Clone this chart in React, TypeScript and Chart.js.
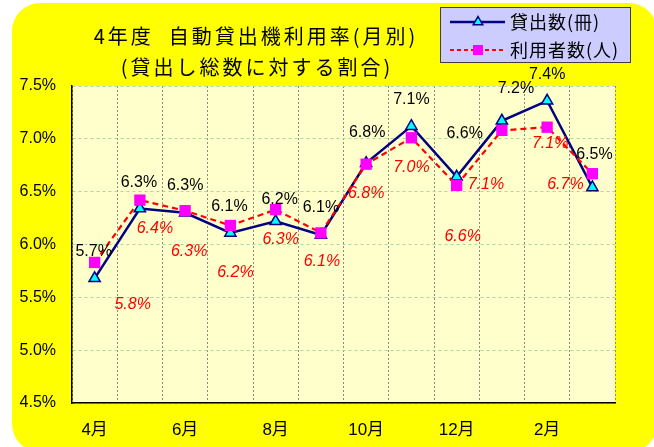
import React, { useEffect, useRef } from 'react';
import { Chart, registerables } from 'chart.js';

Chart.register(...registerables);

// ---- data ----
const months = ['4月', '5月', '6月', '7月', '8月', '9月', '10月', '11月', '12月', '1月', '2月', '3月'];
const loanRate = [5.68, 6.34, 6.3, 6.11, 6.22, 6.09, 6.77, 7.12, 6.64, 7.17, 7.36, 6.54];
const userRate = [5.83, 6.42, 6.32, 6.18, 6.33, 6.11, 6.76, 7.01, 6.56, 7.08, 7.11, 6.67];
const seriesNames = ['貸出数(冊)', '利用者数(人)'];
const titleLines = ['4年度  自動貸出機利用率(月別)', '(貸出し総数に対する割合)'];
const yMin = 4.5;
const yMax = 7.5;
const yStep = 0.5;

// ---- label placement (offsets from each point, px) ----
const loanNudge: [number, number][] = [
  [-1, -27], [-1, -26], [0, -27], [-1, -26], [4, -22], [0, -27],
  [1, -31], [0, -27], [8, -43], [14, -32], [0, -26], [2, -33],
];
const userNudge: [number, number][] = [
  [38, 42], [15, 28], [4, 41], [5, 47], [5, 30], [1, 29],
  [0, 29], [0, 30], [6, 51], [-16, 54], [3, 16], [-27, 11],
];

const NAVY = '#000080';
const RED = '#FF0000';
const MAGENTA = '#FF00FF';
const CYAN = '#00FFFF';
const LATIN = '"Liberation Sans", Arial, sans-serif';
const CJK = '"Noto Sans CJK JP", sans-serif';

function roundRectPath(ctx: CanvasRenderingContext2D, x: number, y: number, w: number, h: number, r: number) {
  ctx.beginPath();
  ctx.moveTo(x + r, y);
  ctx.lineTo(x + w - r, y);
  ctx.arcTo(x + w, y, x + w, y + r, r);
  ctx.lineTo(x + w, y + h - r);
  ctx.arcTo(x + w, y + h, x + w - r, y + h, r);
  ctx.lineTo(x + r, y + h);
  ctx.arcTo(x, y + h, x, y + h - r, r);
  ctx.lineTo(x, y + r);
  ctx.arcTo(x, y, x + r, y, r);
  ctx.closePath();
}

export default function App() {
  const ref = useRef<HTMLCanvasElement>(null);

  useEffect(() => {
    document.body.style.margin = '0';
    const canvas = ref.current!;

    const bgPlugin = {
      id: 'bgPlugin',
      beforeDraw(chart: any) {
        const { ctx, chartArea: a, width, height } = chart;
        ctx.save();
        ctx.fillStyle = '#FFFFFF';
        ctx.fillRect(0, 0, width, height);
        ctx.fillStyle = '#FFFF00';
        roundRectPath(ctx, 12, 3, 645, 449, 28);
        ctx.fill();
        ctx.fillStyle = '#FFFFCC';
        ctx.fillRect(a.left, a.top, a.right - a.left, a.bottom - a.top);
        ctx.restore();
      },
    };

    const labelPlugin = {
      id: 'labelPlugin',
      afterDatasetsDraw(chart: any) {
        const { ctx } = chart;
        ctx.save();
        ctx.textAlign = 'center';
        ctx.textBaseline = 'middle';
        const m0 = chart.getDatasetMeta(0);
        ctx.font = `16px ${LATIN}`;
        ctx.fillStyle = '#000000';
        m0.data.forEach((pt: any, i: number) => {
          const [dx, dy] = loanNudge[i];
          ctx.fillText(loanRate[i].toFixed(1) + '%', pt.x + dx, pt.y + dy);
        });
        const m1 = chart.getDatasetMeta(1);
        ctx.font = `italic 16px ${LATIN}`;
        ctx.fillStyle = RED;
        m1.data.forEach((pt: any, i: number) => {
          const [dx, dy] = userNudge[i];
          ctx.fillText(userRate[i].toFixed(1) + '%', pt.x + dx, pt.y + dy);
        });
        ctx.restore();
      },
    };

    const titleLegendPlugin = {
      id: 'titleLegendPlugin',
      afterDraw(chart: any) {
        const { ctx } = chart;
        ctx.save();
        // title
        ctx.fillStyle = '#000000';
        ctx.textAlign = 'center';
        ctx.textBaseline = 'middle';
        ctx.font = `20px ${CJK}`;
        (ctx as any).letterSpacing = '3px';
        ctx.fillText(titleLines[0], 256, 36);
        ctx.fillText(titleLines[1], 257, 67);
        (ctx as any).letterSpacing = '0px';

        // legend box
        const lx = 440, ly = 7, lw = 190, lh = 55;
        ctx.fillStyle = '#CCCCFF';
        ctx.fillRect(lx, ly, lw, lh);
        ctx.strokeStyle = '#404040';
        ctx.lineWidth = 1;
        ctx.strokeRect(lx + 0.5, ly + 0.5, lw, lh);

        const rows = [22, 50];
        // row 1: navy line with cyan triangle
        ctx.strokeStyle = NAVY;
        ctx.lineWidth = 2.5;
        ctx.setLineDash([]);
        ctx.beginPath();
        ctx.moveTo(450, rows[0]);
        ctx.lineTo(505, rows[0]);
        ctx.stroke();
        const tr = 5.5;
        ctx.beginPath();
        ctx.moveTo(478, rows[0] - tr);
        ctx.lineTo(478 + tr * Math.sin(2.0944), rows[0] - tr * Math.cos(2.0944));
        ctx.lineTo(478 + tr * Math.sin(4.1888), rows[0] - tr * Math.cos(4.1888));
        ctx.closePath();
        ctx.fillStyle = CYAN;
        ctx.fill();
        ctx.lineWidth = 1.5;
        ctx.stroke();

        // row 2: red dashed with magenta square
        ctx.strokeStyle = RED;
        ctx.lineWidth = 2;
        ctx.setLineDash([4, 3]);
        ctx.beginPath();
        ctx.moveTo(450, rows[1]);
        ctx.lineTo(505, rows[1]);
        ctx.stroke();
        ctx.setLineDash([]);
        ctx.fillStyle = MAGENTA;
        ctx.fillRect(473, rows[1] - 5, 10, 10);

        ctx.fillStyle = '#000000';
        ctx.textAlign = 'left';
        ctx.font = `18px ${CJK}`;
        (ctx as any).letterSpacing = '1px';
        ctx.fillText(seriesNames[0], 510, rows[0]);
        ctx.fillText(seriesNames[1], 510, rows[1]);
        ctx.restore();
      },
    };

    const chart = new Chart(canvas, {
      type: 'line',
      data: {
        labels: months,
        datasets: [
          {
            label: seriesNames[0],
            data: loanRate,
            borderColor: NAVY,
            borderWidth: 2.5,
            pointStyle: 'triangle',
            pointRadius: 6.5,
            pointBackgroundColor: CYAN,
            pointBorderColor: NAVY,
            pointBorderWidth: 1.5,
            tension: 0,
            order: 2,
          },
          {
            label: seriesNames[1],
            data: userRate,
            borderColor: RED,
            borderWidth: 2.2,
            borderDash: [6, 4],
            pointStyle: 'rect',
            pointRadius: 8,
            pointBackgroundColor: MAGENTA,
            pointBorderColor: MAGENTA,
            pointBorderWidth: 0,
            tension: 0,
            order: 1,
          },
        ],
      },
      options: {
        responsive: false,
        animation: false,
        devicePixelRatio: 1,
        layout: { padding: { left: 0, top: 86, right: 39, bottom: 0 } },
        plugins: {
          legend: { display: false },
          title: { display: false },
          tooltip: { enabled: false },
        },
        scales: {
          x: {
            type: 'category',
            offset: true,
            afterFit: (axis: any) => { axis.height = 44; },
            grid: {
              offset: true,
              color: '#8A8A8A',
              lineWidth: 1,
              drawTicks: false,
              tickLength: 0,
            } as any,
            border: { display: true, color: '#000000', width: 1.5, dash: [2, 2] } as any,
            ticks: {
              autoSkip: false,
              maxRotation: 0,
              padding: 17,
              color: '#000000',
              font: { size: 17, family: `"Liberation Sans", "Noto Sans CJK JP", sans-serif` },
              callback: (_v: any, i: number) => (i % 2 === 0 ? months[i] : ''),
            },
          },
          y: {
            min: yMin,
            max: yMax,
            afterFit: (axis: any) => { axis.width = 72; },
            grid: {
              color: '#A8D8A8',
              lineWidth: 1,
              drawTicks: false,
              tickLength: 0,
            } as any,
            border: { display: true, color: '#000000', width: 1.5, dash: [3, 3] } as any,
            ticks: {
              stepSize: yStep,
              padding: 16,
              color: '#000000',
              font: { size: 16, family: LATIN },
              callback: (v: any) => Number(v).toFixed(1) + '%',
            },
          },
        },
      },
      plugins: [bgPlugin, labelPlugin, titleLegendPlugin],
    });

    return () => chart.destroy();
  }, []);

  return (
    <div style={{ width: 654, height: 447 }}>
      <canvas ref={ref} width={654} height={447} style={{ display: 'block' }} />
    </div>
  );
}
